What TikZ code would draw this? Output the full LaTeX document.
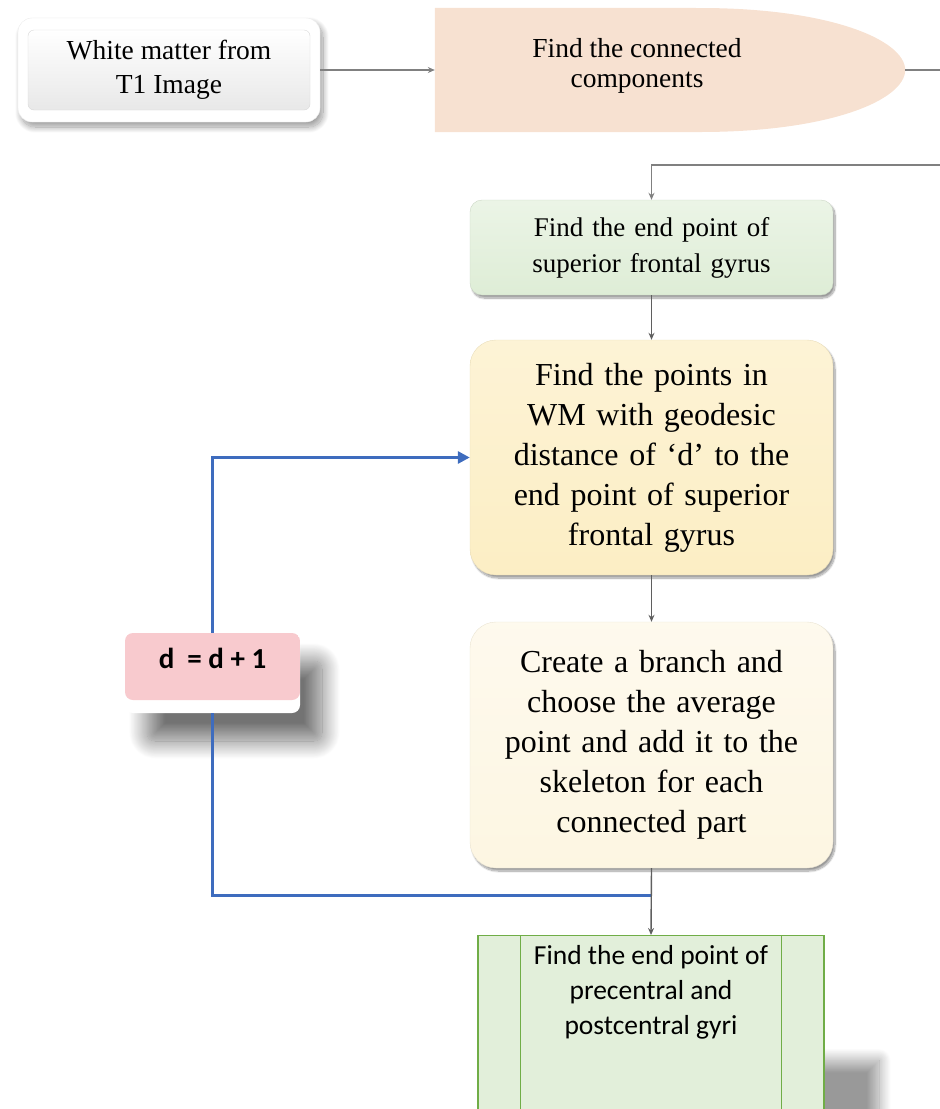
\documentclass[tikz,border=0pt]{standalone}
\usepackage{fontspec}
\setmainfont{Liberation Serif}
\newfontfamily\calibri{Carlito}
\usetikzlibrary{shapes,arrows.meta,shadows.blur}
\usepackage{color}

\definecolor{peach}{RGB}{247,225,209}
\definecolor{mint}{RGB}{222,237,214}
\definecolor{butter}{RGB}{252,238,196}
\definecolor{cream}{RGB}{253,246,226}
\definecolor{leaf}{RGB}{226,239,218}
\definecolor{leafline}{RGB}{112,173,71}
\definecolor{rose}{RGB}{248,202,206}
\definecolor{loopblue}{RGB}{62,108,190}
\definecolor{linegray}{RGB}{95,95,95}

\tikzset{
  flow/.style={draw=linegray,line width=1.4pt,-{Stealth[length=7pt,width=6pt]}},
  loopline/.style={draw=loopblue,line width=3pt},
  stepbox/.style={rectangle,minimum width=363pt,align=center,text width=330pt}
}

\begin{document}
\begin{tikzpicture}[x=1pt,y=-1pt]
  \useasboundingbox (0,0) rectangle (940,1109);

  % input
  \node[rectangle,rounded corners=14pt,fill=white,draw=gray!15,minimum width=302pt,minimum height=104pt,
        blur shadow={shadow xshift=3pt,shadow yshift=-5pt,shadow blur radius=6pt,shadow blur steps=20}] at (169,70) (wmframe) {};
  \node[rectangle,rounded corners=6pt,top color=white,bottom color=gray!18,draw=gray!30,minimum width=282pt,minimum height=80pt,
        align=center,font=\fontsize{27.5}{34}\selectfont] at (169,70) (wm) {White matter from\\T1 Image};

  % connected components
  \node[rectangle,minimum width=470pt,minimum height=124pt] at (670,70) (comp) {};
  \fill[peach] (comp.north west) -- (700,8) .. controls (830,8) and (905,40) .. (comp.east)
    .. controls (905,100) and (830,132) .. (700,132) -- (comp.south west) -- cycle;
  \node[align=center,font=\fontsize{27.5}{30}\selectfont] at (637,66) (comptext) {Find the connected\\components};
  \coordinate (edgeA) at (940,70);
  \coordinate (edgeB) at (940,165);

  \draw[flow,draw=gray] (wmframe.east) -- (comp.west);
  \draw[draw=gray,line width=1.4pt] (comp.east) -- (edgeA);

  % superior frontal gyrus
  \node[stepbox,rounded corners=12pt,top color=mint!60,bottom color=mint,draw=mint!80!gray,minimum height=95pt,
        font=\fontsize{27}{36}\selectfont,blur shadow={shadow xshift=2pt,shadow yshift=-3pt,shadow blur steps=12}] at (651.5,247.5) (sfg) {Find the end point of\\superior frontal gyrus};
  \draw[flow,draw=gray] (edgeB) -| (sfg.north);

  \node[stepbox,rounded corners=26pt,top color=butter!70,bottom color=butter,draw=butter!85!gray,minimum height=235pt,
        font=\fontsize{32}{40}\selectfont,blur shadow={shadow xshift=2pt,shadow yshift=-3pt,shadow blur steps=12}] at (651.5,457.5) (points)
        {Find the points in\\WM with geodesic\\distance of `d' to the\\end point of superior\\frontal gyrus};
  \draw[flow] (sfg.south) -- (points.north);

  \node[stepbox,rounded corners=26pt,top color=cream!60,bottom color=cream,draw=cream!85!gray,minimum height=246pt,
        font=\fontsize{32}{40}\selectfont,blur shadow={shadow xshift=2pt,shadow yshift=-3pt,shadow blur steps=12}] at (651.5,745) (branch)
        {Create a branch and\\choose the average\\point and add it to the\\skeleton for each\\connected part};
  \draw[flow] (points.south) -- (branch.north);

  % precentral and postcentral gyri
  \node[rectangle,anchor=north,fill=leaf,draw=leafline,line width=1.2pt,minimum width=346pt,inner sep=10pt,
        text depth=150pt,align=center,font=\calibri\fontsize{27.5}{35}\selectfont,
        blur shadow={shadow xshift=55pt,shadow yshift=-125pt,shadow blur radius=12pt,shadow blur steps=20}] at (651,935) (pgyri)
        {Find the end point of\\precentral and\\postcentral gyri};
  \draw[leafline,line width=1.2pt] ([xshift=43pt]pgyri.north west) -- ([xshift=43pt]pgyri.south west);
  \draw[leafline,line width=1.2pt] ([xshift=-43pt]pgyri.north east) -- ([xshift=-43pt]pgyri.south east);

  % counter
  \node[rectangle,rounded corners=8pt,fill=white,minimum width=175pt,minimum height=80pt,text depth=30pt,
        font=\calibri\bfseries\fontsize{29}{32}\selectfont,
        path picture={\fill[rose] (path picture bounding box.north west) rectangle ([yshift=13pt]path picture bounding box.south east);},
        blur shadow={shadow xshift=22pt,shadow yshift=-28pt,shadow blur radius=18pt,shadow opacity=55,shadow blur steps=25}] at (212.5,673) (dpp) {d\ \ = d + 1};

  \coordinate (join) at (651.5,895);
  \draw[loopline,-{Triangle[length=12pt,width=12pt]}] (dpp.north) |- (points.west);
  \draw[loopline] (dpp.south) |- (join);
  \draw[flow] (branch.south) -- (pgyri.north);

\end{tikzpicture}
\end{document}
